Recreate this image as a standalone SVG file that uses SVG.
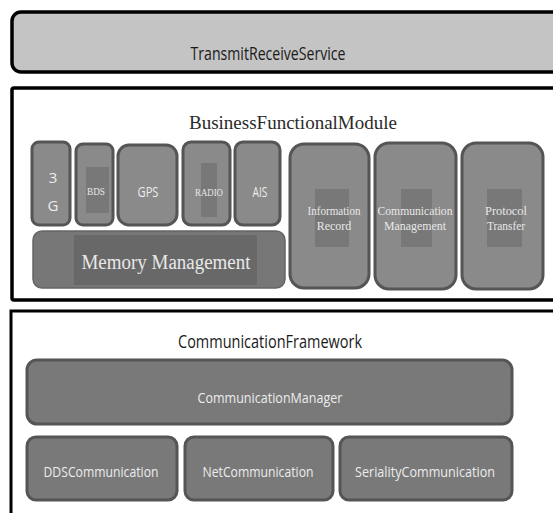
<svg xmlns="http://www.w3.org/2000/svg" width="553" height="513" viewBox="0 0 553 513">
<style>
.frame{fill:#ffffff;stroke:#000000;stroke-width:3.5}
.mod{fill:#8a8a8a;stroke:#555555;stroke-width:3}
.cm{fill:#797979;stroke:#555555;stroke-width:3}
.inner{fill:#787878;stroke:none}
.title{font-family:"Open Sans","Liberation Sans",sans-serif;font-size:18px;fill:#1a1a1a;text-anchor:middle}
.lbl{font-family:"Open Sans","Liberation Sans",sans-serif;font-size:15px;fill:#ececec;text-anchor:middle}
.ser{font-family:"Liberation Serif","DejaVu Serif",serif;fill:#e8e8e8;text-anchor:middle}
</style>
<g id="transmit-receive-service">
<rect x="12" y="12" width="560" height="60" rx="9" fill="#c4c4c4" stroke="#000" stroke-width="3.5"/>
<text class="title" x="268" y="60" textLength="155" lengthAdjust="spacingAndGlyphs">TransmitReceiveService</text>
</g>
<g id="business-functional-module">
<rect class="frame" x="12" y="88" width="560" height="212" rx="2"/>
<text x="293" y="129" font-family="Liberation Serif,DejaVu Serif,serif" font-size="19" fill="#2a2a2a" text-anchor="middle" textLength="208" lengthAdjust="spacingAndGlyphs">BusinessFunctionalModule</text>
</g>
<g id="node-3g">
<rect class="mod" x="32" y="142" width="38" height="83" rx="7"/>
<text class="lbl" x="53" y="183">3</text>
<text class="lbl" x="53" y="211">G</text>
</g>
<g id="node-bds">
<rect class="mod" x="76" y="144" width="37" height="81" rx="7"/>
<rect class="inner" x="86" y="167" width="23" height="46"/>
<text class="ser" x="96" y="195" font-size="10" textLength="18" lengthAdjust="spacingAndGlyphs">BDS</text>
</g>
<g id="node-gps">
<rect class="mod" x="118" y="145" width="59" height="80" rx="11"/>
<text class="lbl" x="148" y="197" textLength="21" lengthAdjust="spacingAndGlyphs">GPS</text>
</g>
<g id="node-radio">
<rect class="mod" x="183" y="142" width="47" height="83" rx="8"/>
<rect class="inner" x="201" y="163" width="16" height="54"/>
<text class="ser" x="209" y="196" font-size="10" textLength="28" lengthAdjust="spacingAndGlyphs">RADIO</text>
</g>
<g id="node-ais">
<rect class="mod" x="235" y="142" width="45" height="83" rx="8"/>
<text class="lbl" x="260" y="197" textLength="15" lengthAdjust="spacingAndGlyphs">AIS</text>
</g>
<g id="node-memory-management">
<rect x="33" y="231" width="252" height="57" rx="9" fill="#777777" stroke="#666" stroke-width="1.5"/>
<rect x="74" y="235" width="183" height="50" fill="#686868"/>
<text class="ser" x="166" y="269" font-size="20" textLength="169" lengthAdjust="spacingAndGlyphs">Memory Management</text>
</g>
<g id="node-information-record">
<rect class="mod" x="290" y="144" width="79" height="144" rx="14"/>
<rect class="inner" x="315" y="189" width="34" height="58"/>
<text class="ser" x="334" y="215" font-size="12" textLength="53" lengthAdjust="spacingAndGlyphs">Information</text>
<text class="ser" x="334" y="230" font-size="12">Record</text>
</g>
<g id="node-communication-management">
<rect class="mod" x="375" y="143" width="81" height="146" rx="14"/>
<rect class="inner" x="401" y="189" width="31" height="58"/>
<text class="ser" x="415" y="215" font-size="12" textLength="75" lengthAdjust="spacingAndGlyphs">Communication</text>
<text class="ser" x="415" y="230" font-size="12" textLength="62" lengthAdjust="spacingAndGlyphs">Management</text>
</g>
<g id="node-protocol-transfer">
<rect class="mod" x="462" y="143" width="81" height="146" rx="14"/>
<rect class="inner" x="487" y="189" width="35" height="58"/>
<text class="ser" x="506" y="215" font-size="12" textLength="42" lengthAdjust="spacingAndGlyphs">Protocol</text>
<text class="ser" x="506" y="230" font-size="12" textLength="38" lengthAdjust="spacingAndGlyphs">Transfer</text>
</g>
<g id="communication-framework">
<rect x="11" y="311" width="570" height="230" fill="#fff" stroke="#000" stroke-width="3"/>
<text class="title" x="270" y="348" textLength="184" lengthAdjust="spacingAndGlyphs">CommunicationFramework</text>
</g>
<g id="node-communication-manager">
<rect class="cm" x="27" y="360" width="485" height="64" rx="10"/>
<text class="lbl" x="270" y="403" font-size="17" textLength="145" lengthAdjust="spacingAndGlyphs">CommunicationManager</text>
</g>
<g id="node-dds-communication">
<rect class="cm" x="27" y="437" width="150" height="63" rx="9"/>
<text class="lbl" x="101" y="477" font-size="17" textLength="115" lengthAdjust="spacingAndGlyphs">DDSCommunication</text>
</g>
<g id="node-net-communication">
<rect class="cm" x="185" y="437" width="148" height="63" rx="9"/>
<text class="lbl" x="258" y="477" font-size="17" textLength="111" lengthAdjust="spacingAndGlyphs">NetCommunication</text>
</g>
<g id="node-seriality-communication">
<rect class="cm" x="340" y="437" width="172" height="63" rx="9"/>
<text class="lbl" x="425" y="477" font-size="17" textLength="140" lengthAdjust="spacingAndGlyphs">SerialityCommunication</text>
</g>
<g id="connectors"></g>
</svg>
